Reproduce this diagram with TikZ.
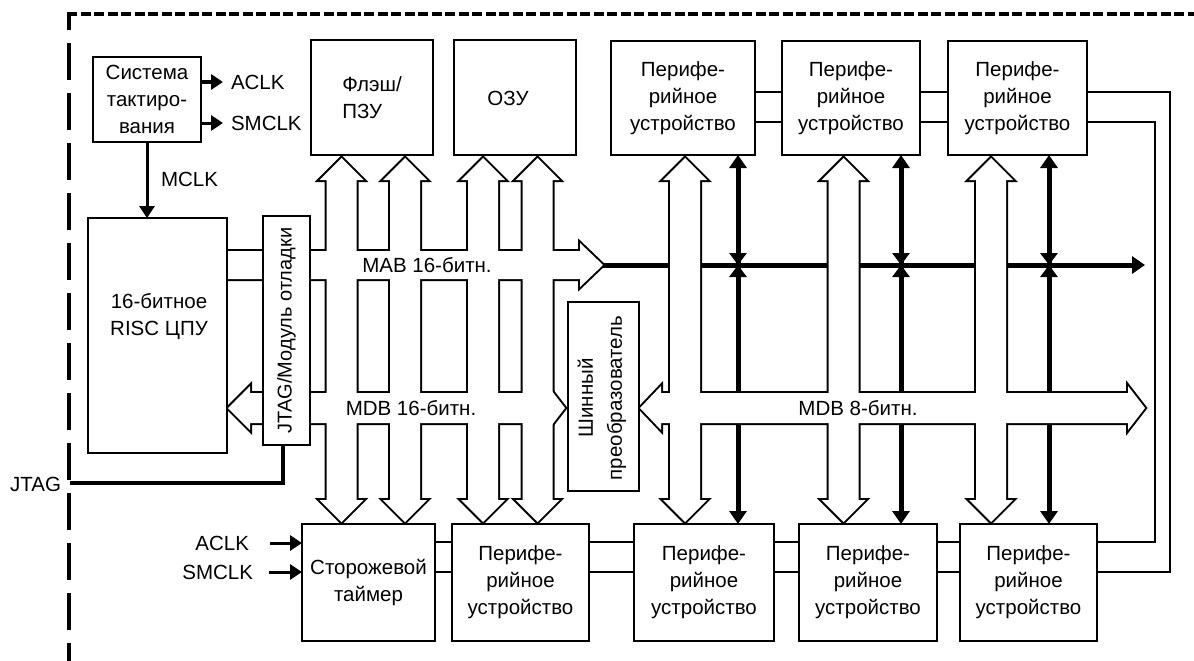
\documentclass[tikz,border=0pt]{standalone}
\usepackage{fontspec}
\setmainfont{Liberation Sans}
\usetikzlibrary{arrows.meta,calc}
\pgfdeclarelayer{sigl}
\pgfdeclarelayer{busout}
\pgfdeclarelayer{busin}
\pgfsetlayers{sigl,busout,busin,main}
\tikzset{
 txt/.style={font=\fontsize{20.5}{27}\selectfont, inner sep=0pt, outer sep=0pt, align=center},
 box/.style={draw, line width=2.6pt, fill=white, rectangle, inner sep=0pt, outer sep=0pt, txt},
 sig/.style={line width=5pt},
 conn/.style={line width=2.3pt},
 clkar/.style={line width=3pt, -{Triangle[length=12pt,width=15pt]}},
 bigtip/.style={-{Triangle[length=13pt,width=17pt]}},
 bothtip/.style={{Triangle[length=13pt,width=17pt]}-{Triangle[length=13pt,width=17pt]}},
}
\begin{document}
\begin{tikzpicture}[x=1pt,y=-1pt]
\useasboundingbox (0,0) rectangle (1194,661);

% dashed frame
\draw[line width=4.5pt, dash pattern=on 37pt off 13pt, dash phase=21pt] (69,14) -- (69,661);
\draw[line width=4pt, dash pattern=on 10pt off 3.5pt] (67,14) -- (1194,14);

% boxes
\node[box, minimum width=108, minimum height=85] (clk) at (147,99.5) {Система\\тактиро-\\вания};
\node[box, minimum width=139, minimum height=235] (cpu) at (157.5,335.5) {};
\node[txt] (cputxt) at (159,317) {16-битное\\RISC ЦПУ};
\node[box, minimum width=47, minimum height=229] (jtag) at (286.5,330.5) {};
\node[txt, rotate=90, font=\fontsize{20}{27}\selectfont] (jtagtxt) at (jtag.center) {JTAG/Модуль отладки};
\node[box, minimum width=122, minimum height=115, align=left] (flash) at (372,97.5) {Флэш/\\ПЗУ};
\node[box, minimum width=122, minimum height=115] (ram) at (515,97.5) {};
\node[txt] (ramtxt) at (508,98) {ОЗУ};
\node[box, minimum width=144, minimum height=114] (p1) at (683,98) {Перифе-\\рийное\\устройство};
\node[box, minimum width=138, minimum height=114] (p2) at (851,98) {Перифе-\\рийное\\устройство};
\node[box, minimum width=139, minimum height=114] (p3) at (1017.5,98) {Перифе-\\рийное\\устройство};
\node[box, minimum width=71, minimum height=189] (conv) at (603.5,396.5) {};
\node[txt, rotate=90, font=\fontsize{20.5}{29}\selectfont] (convtxt) at (602,398) {Шинный\\преобразователь};
\node[box, minimum width=133, minimum height=117] (wd) at (368.5,582.5) {Сторожевой\\таймер};
\node[box, minimum width=137, minimum height=117] (bp1) at (520.5,582.5) {Перифе-\\рийное\\устройство};
\node[box, minimum width=140, minimum height=117] (bp2) at (704,582.5) {Перифе-\\рийное\\устройство};
\node[box, minimum width=138, minimum height=117] (bp3) at (868,582.5) {Перифе-\\рийное\\устройство};
\node[box, minimum width=137, minimum height=117] (bp4) at (1028.5,582.5) {Перифе-\\рийное\\устройство};

% clock signals
\node[txt, anchor=west] (aclk) at (231,82) {ACLK};
\node[txt, anchor=west] (smclk) at (231,123) {SMCLK};
\node[txt, anchor=west] (mclk) at (161,179) {MCLK};
\draw[clkar] (clk.east |- aclk.west) -- ($(aclk.west)+(-8,0)$);
\draw[clkar] (clk.east |- smclk.west) -- ($(smclk.west)+(-8,0)$);
\draw[clkar] (clk.south) -- (cpu.north -| clk.south);
\node[txt, anchor=east] (aclkw) at (249,543) {ACLK};
\node[txt, anchor=east] (smclkw) at (253,572) {SMCLK};
\draw[clkar] ($(aclkw.east)+(21,0)$) -- (wd.west |- aclkw.east);
\draw[clkar] ($(smclkw.east)+(16,0)$) -- (wd.west |- smclkw.east);

% JTAG external line
\node[txt, anchor=east] (jtaglbl) at (61,484) {JTAG};
\coordinate (jtagend) at (70,483);
\draw[line width=4pt] (jtag.south -| 283,0) |- (jtagend);

% bus labels
\coordinate (mabtip) at (603,265);
\coordinate (mabend) at (1145,265);
\node[txt] (mablbl) at (427,265) {MAB 16-битн.};
\node[txt] (mdblbl) at (411,408) {MDB 16-битн.};
\node[txt] (mdb8lbl) at (858,408) {MDB 8-битн.};

% links between peripherals
\foreach \a/\b in {p1/p2, p2/p3} {
  \draw[conn] (\a.east |- 0,92) -- (\b.west |- 0,92);
  \draw[conn] (\a.east |- 0,122) -- (\b.west |- 0,122);
}
\foreach \a/\b in {wd/bp1, bp1/bp2, bp2/bp3, bp3/bp4} {
  \draw[conn] (\a.east |- 0,542) -- (\b.west |- 0,542);
  \draw[conn] (\a.east |- 0,572) -- (\b.west |- 0,572);
}
\draw[conn] (p3.east |- 0,92) -- (1170,92) -- (1170,572) -- (bp4.east |- 0,572);
\draw[conn] (p3.east |- 0,122) -- (1155,122) -- (1155,542) -- (bp4.east |- 0,542);

% thick signal lines (under the buses)
\begin{pgfonlayer}{sigl}
\draw[sig, bigtip] (mabtip) -- (mabend);
\foreach \x/\t/\b in {738/p1/bp2, 901/p2/bp3, 1049/p3/bp4} {
  \draw[sig, bothtip] (\t.south -| \x,0) -- (\b.north -| \x,0);
  \coordinate (cross\t) at (\x,265);
  \draw[sig, -{Triangle[length=12pt,width=17pt]}] (\x,248) -- (cross\t);
  \draw[sig, -{Triangle[length=12pt,width=17pt]}] (\x,282) -- (cross\t);
}
\end{pgfonlayer}

% wide buses drawn as a union of outlines
\def\Buses{%
 \path[curbus] (227,251) -- (580,251) -- (580,243) -- (mabtip) -- (580,287) -- (580,279) -- (227,279) -- cycle;
 \path[curbus] (228,408) -- (250,386) -- (250,393) -- (548,393) -- (548,386) -- (565,408) -- (548,430) -- (548,423) -- (250,423) -- (250,430) -- cycle;
 \path[curbus] (640,408) -- (661,386) -- (661,393) -- (1128,393) -- (1128,386) -- (1145,408) -- (1128,430) -- (1128,423) -- (661,423) -- (661,430) -- cycle;
 \foreach \c in {341.5,405,483,537.5,685,843.5,991}
   \path[curbus] (\c,158) -- ({\c+22},180) -- ({\c+15},180) -- ({\c+15},500) -- ({\c+22},500) -- (\c,522) -- ({\c-22},500) -- ({\c-15},500) -- ({\c-15},180) -- ({\c-22},180) -- cycle;
}
\begin{pgfonlayer}{busout}
\tikzset{curbus/.style={draw, line width=4pt, line join=miter}}
\Buses
\end{pgfonlayer}
\begin{pgfonlayer}{busin}
\tikzset{curbus/.style={fill=white}}
\Buses
\end{pgfonlayer}
\end{tikzpicture}
\end{document}
